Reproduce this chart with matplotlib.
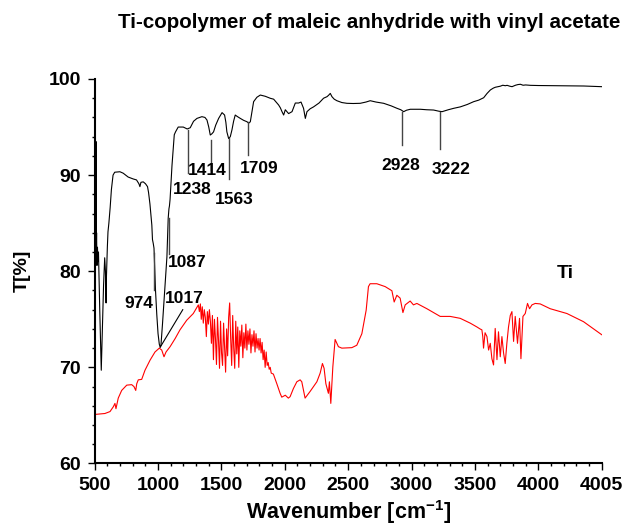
import numpy as np
import matplotlib
matplotlib.use("Agg")
import matplotlib.pyplot as plt

plt.rcParams['font.family'] = ['Liberation Sans', 'DejaVu Sans']
plt.rcParams['font.weight'] = 'bold'
plt.rcParams['mathtext.fontset'] = 'custom'
plt.rcParams['mathtext.rm'] = 'Liberation Sans:bold'
plt.rcParams['mathtext.bf'] = 'Liberation Sans:bold'
plt.rcParams['mathtext.default'] = 'bf'

# copolymer spectrum (black)
wn_cop = [500, 502, 504, 506, 508, 510, 512, 515, 518, 522, 526, 530, 540, 552, 560, 570, 579, 585,
          590, 593, 600, 605, 612, 618, 622, 632, 645, 658, 699, 725, 764, 804, 830, 849, 857, 865,
          883, 901, 917, 925, 936, 944, 951, 956, 962, 968, 980, 990, 1000, 1010, 1017, 1023, 1035,
          1045, 1060, 1070, 1080, 1086, 1090, 1095, 1110, 1128, 1138, 1159, 1199, 1215, 1230, 1254,
          1280, 1307, 1346, 1370, 1386, 1400, 1412, 1425, 1438, 1455, 1478, 1505, 1525, 1535, 1543,
          1557, 1570, 1583, 1596, 1609, 1625, 1649, 1675, 1702, 1715, 1728, 1740, 1754, 1780, 1807,
          1846, 1886, 1912, 1951, 1965, 1978, 1991, 2004, 2017, 2030, 2057, 2083, 2109, 2128, 2148,
          2162, 2175, 2200, 2227, 2270, 2306, 2333, 2345, 2359, 2372, 2390, 2411, 2450, 2490, 2540,
          2595, 2640, 2674, 2720, 2780, 2840, 2885, 2915, 2938, 2960, 2990, 3069, 3120, 3174, 3215,
          3241, 3290, 3333, 3385, 3440, 3490, 3530, 3569, 3596, 3622, 3645, 3661, 3700, 3720, 3740,
          3754, 3775, 3793, 3820, 3840, 3859, 3880, 3900, 3938, 4000, 4148, 4359, 4500]
t_cop = [88.0, 95.0, 81.0, 94.8, 80.8, 93.5, 81.5, 84.0, 80.6, 82.5, 81.0, 82.0, 76.0, 69.7, 73.5,
         78.5, 81.4, 80.0, 76.7, 79.5, 82.5, 84.1, 85.0, 85.9, 86.6, 88.5, 90.0, 90.3, 90.35, 90.2,
         89.8, 89.6, 89.5, 89.1, 88.8, 89.25, 89.3, 89.1, 88.8, 88.2, 87.0, 85.8, 84.8, 83.3, 82.9,
         82.4, 78.0, 75.5, 73.5, 72.4, 72.1, 72.3, 74.5, 76.5, 79.5, 81.5, 85.5, 86.5, 86.8, 87.5,
         91.0, 94.2, 94.5, 95.0, 95.0, 94.9, 94.8, 94.93, 95.6, 95.9, 96.08, 96.0, 95.73, 95.0,
         94.17, 94.3, 94.5, 95.2, 95.9, 96.5, 96.25, 95.5, 94.5, 93.8, 94.0, 94.7, 95.6, 96.25,
         96.1, 95.9, 95.7, 95.55, 95.4, 95.55, 96.5, 97.64, 98.1, 98.33, 98.2, 97.99, 97.9, 97.3,
         97.0, 96.6, 96.25, 96.8, 96.6, 96.4, 96.6, 97.5, 97.5, 97.6, 96.95, 95.9, 96.6, 96.9, 97.1,
         97.5, 98.0, 98.16, 98.3, 98.5, 98.16, 97.9, 97.74, 97.55, 97.47, 97.45, 97.47, 97.6, 97.74,
         97.6, 97.47, 97.2, 96.95, 96.8, 96.6, 96.75, 96.85, 96.85, 96.8, 96.77, 96.65, 96.6, 96.8,
         96.95, 97.1, 97.35, 97.64, 97.8, 98.05, 98.5, 98.86, 99.05, 99.14, 99.25, 99.35, 99.3,
         99.34, 99.25, 99.2, 99.35, 99.42, 99.45, 99.35, 99.38, 99.34, 99.32, 99.3, 99.27, 99.2]

# Ti spectrum (red)
wn_ti = [500, 581, 621, 647, 660, 668, 686, 713, 753, 792, 810, 824, 832, 844, 871, 897, 937, 976,
         1010, 1029, 1047, 1063, 1095, 1135, 1173, 1226, 1278, 1305,
         1318, 1326, 1334, 1341, 1349, 1357, 1365, 1373, 1381, 1389, 1397, 1405, 1413, 1421, 1429,
         1437, 1445, 1453, 1461, 1469, 1477, 1485, 1493, 1501, 1509, 1517, 1525, 1533, 1541, 1549,
         1557, 1565, 1573, 1581, 1589, 1597, 1605, 1613, 1621, 1629, 1637, 1645, 1653, 1661, 1669,
         1677, 1685, 1693, 1701, 1709, 1717, 1725, 1733, 1741, 1749, 1757, 1765, 1773, 1781, 1789,
         1797, 1805, 1813, 1821, 1829, 1837, 1845, 1853, 1861, 1869, 1877, 1885, 1893, 1910, 1937,
         1963, 1976, 2004, 2028, 2042, 2068, 2095, 2121, 2134, 2160, 2200, 2253, 2279, 2297, 2310,
         2324, 2344, 2352, 2363, 2379, 2397, 2423, 2450, 2529, 2568, 2608, 2642, 2660, 2673, 2726,
         2792, 2845, 2863, 2884, 2910, 2932, 2950, 2989, 3015, 3042, 3121, 3226, 3305, 3384, 3463,
         3516, 3540, 3555, 3562, 3568, 3580, 3595, 3608, 3621, 3634, 3647, 3660, 3674, 3686, 3700,
         3713, 3726, 3739, 3752, 3765, 3779, 3792, 3805, 3818, 3836, 3852, 3863, 3879, 3897, 3915,
         3931, 3950, 3976, 4015, 4094, 4226, 4357, 4500]
t_ti = [65.1, 65.2, 65.4, 65.9, 66.25, 65.7, 66.8, 67.6, 68.15, 68.2, 68.0, 67.6, 68.3, 68.7, 68.75,
        69.7, 70.75, 71.6, 72.0, 71.8, 71.1, 71.6, 72.15, 73.0, 73.9, 74.9, 75.6, 76.2,
        76.5, 75.8, 76.6, 75.0, 76.3, 74.6, 76.0, 75.2, 73.2, 75.8, 74.5, 76.0, 74.8, 72.5, 75.4,
        70.8, 75.0, 73.0, 70.3, 75.2, 72.8, 69.9, 74.8, 71.5, 70.2, 74.6, 72.0, 69.5, 74.0, 71.2,
        75.2, 76.7, 73.0, 70.2, 75.4, 72.0, 69.9, 74.8, 71.4, 74.2, 70.0, 73.8, 72.2, 74.4, 71.0,
        73.6, 72.0, 74.5, 71.8, 73.8, 72.4, 74.0, 71.5, 73.4, 72.2, 73.8, 71.6, 73.5, 72.0, 73.0,
        71.8, 73.0, 71.5, 72.6, 70.8, 71.8, 70.0, 71.6, 70.2, 70.5, 69.8, 70.0, 69.4, 69.3, 68.3,
        67.3, 66.9, 67.1, 66.8, 66.95, 67.8, 68.5, 68.7, 68.5, 66.8, 67.5, 68.5, 69.4, 70.4, 69.9,
        68.3, 67.3, 68.5, 66.25, 70.05, 72.9, 72.15, 72.0, 72.05, 72.3, 73.5, 75.95, 78.4, 78.7, 78.7,
        78.4, 77.97, 76.8, 77.5, 77.2, 75.7, 76.5, 76.9, 76.5, 76.65, 76.1, 75.3, 75.3, 75.1, 74.6,
        74.2, 74.0, 73.9, 73.2, 72.0, 73.6, 73.2, 71.8, 72.5, 70.9, 70.25, 74.05, 70.8, 73.7, 71.1,
        73.2, 71.5, 70.4, 72.5, 74.2, 75.4, 75.8, 72.7, 75.3, 72.5, 75.1, 70.9, 75.3, 75.6, 76.65,
        76.1, 76.5, 76.65, 76.6, 76.1, 75.6, 74.75, 73.4]

# peak marks: label, line position, line top, line bottom, label x, label y
peaks = ['1238', '1414', '1563', '1709', '2928', '3222', '1087', '974']
peak_wn = [1238, 1414, 1563, 1709, 2928, 3222, 1087, 965]
line_top = [94.7, 93.65, 93.9, 95.5, 96.6, 96.6, 85.5, 81.9]
line_bot = [90.2, 90.5, 89.6, 92.1, 93.1, 92.7, 81.8, 78.0]
lab_x = [1270, 1388, 1600, 1798, 2918, 3314, 1233, 850]
lab_y = [88.55, 90.5, 87.45, 90.7, 91.05, 90.6, 80.95, 76.6]

fig = plt.figure(figsize=(6.32, 5.28), dpi=100)
ax = fig.add_axes([0.1498, 0.1222, 0.8022, 0.7282])

ax.plot(wn_ti, t_ti, color='red', lw=0.8)
ax.plot(wn_cop, t_cop, color='black', lw=0.8)

for i in range(len(peaks)):
    ax.plot([peak_wn[i], peak_wn[i]], [line_top[i], line_bot[i]], color='#444444', lw=1)
    ax.text(lab_x[i], lab_y[i], peaks[i], fontsize=12.5, fontweight='bold',
            ha='center', va='center')
ax.plot([1017, 1195], [72.1, 76.0], color='black', lw=0.8)
ax.text(1205, 77.15, '1017', fontsize=12.5, fontweight='bold', ha='center', va='center')
ax.text(4213, 79.8, 'Ti', fontsize=14, fontweight='bold', ha='center', va='center')

ax.set_xlim(500, 4500)
ax.set_ylim(60, 100)
ax.set_xticks(np.arange(500, 4501, 500))
ax.set_xticklabels(['500', '1000', '1500', '2000', '2500', '3000', '3500', '4000', '4005'])
ax.set_xticks(np.arange(500, 4501, 100), minor=True)
ax.set_yticks([60, 70, 80, 90, 100])
ax.set_yticks(np.arange(60, 101, 2), minor=True)
ax.tick_params(which='major', direction='out', length=4.8, width=1, labelsize=14, pad=5)
ax.tick_params(which='minor', direction='out', length=2.4, width=1)
for lab in ax.get_xticklabels() + ax.get_yticklabels():
    lab.set_fontweight('bold')
for s in ['top', 'right']:
    ax.spines[s].set_visible(False)
for s in ['left', 'bottom']:
    ax.spines[s].set_linewidth(1.5)

ax.set_xlabel('Wavenumber [cm$^{-1}$]', fontsize=15.5, fontweight='bold', labelpad=3)
ax.set_ylabel('T[%]', fontsize=14, fontweight='bold', labelpad=13)
fig.text(369.5 / 632, 1 - 22 / 528, 'Ti-copolymer of maleic anhydride with vinyl acetate',
         fontsize=14.8, fontweight='bold', ha='center', va='center')

plt.savefig('out.png', dpi=100)
